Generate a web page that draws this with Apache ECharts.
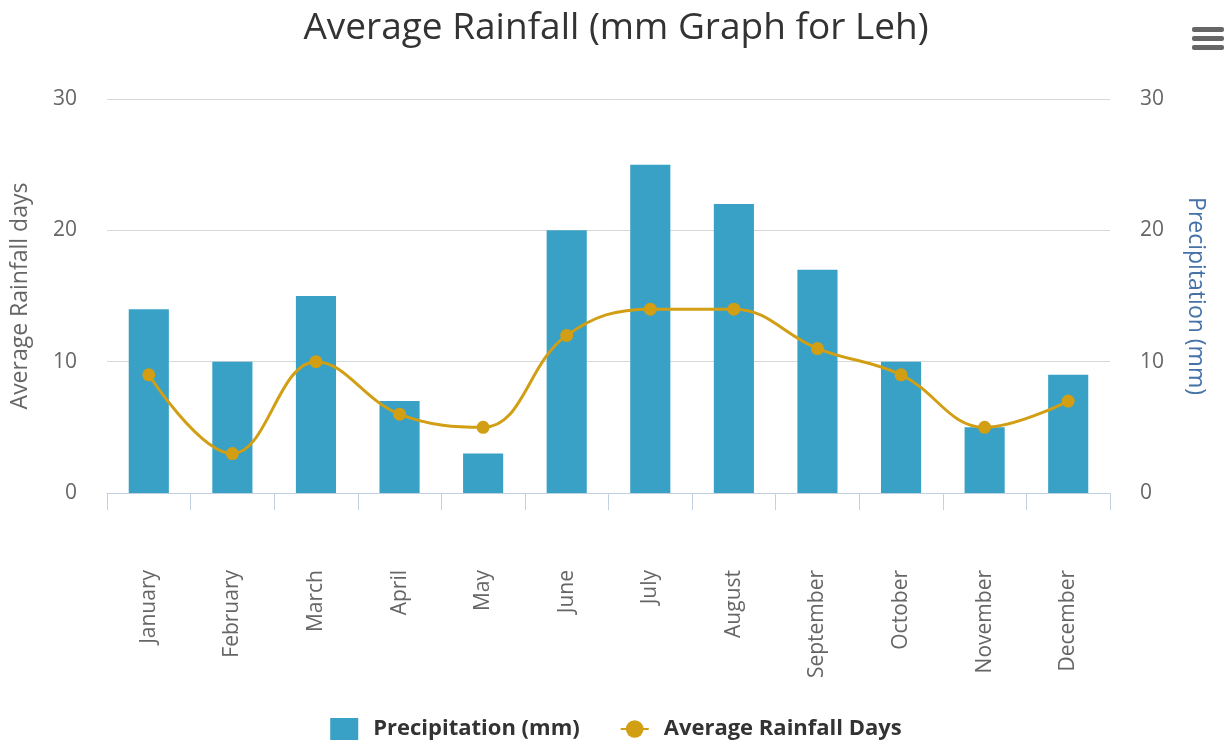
<!DOCTYPE html>
<html><head><meta charset="utf-8">
<script src="https://cdn.jsdelivr.net/npm/echarts@6/dist/echarts.min.js"></script>
<style>html,body{margin:0;padding:0;background:#fff}#c{width:1232px;height:747px}</style>
</head><body><div id="c"></div>
<script>
const months = ["January","February","March","April","May","June","July","August","September","October","November","December"];
const precipitation = [14,10,15,7,3,20,25,22,17,10,5,9];
const rainfallDays = [9,3,10,6,5,12,14,14,11,9,5,7];
const yTicks = [0,10,20,30];

const chart = echarts.init(document.getElementById('c'));
const font = "'Open Sans', 'Noto Sans', sans-serif";
chart.setOption({
  animation:false,
  textStyle:{fontFamily:font},
  title:{text:"Average Rainfall (mm Graph for Leh)",left:'center',top:5,
    textStyle:{fontFamily:font,fontSize:37,fontWeight:'normal',color:'#333'}},
  graphic:[
    {type:'rect',shape:{x:1192,y:27,width:32,height:5,r:2},style:{fill:'#666'}},
    {type:'rect',shape:{x:1192,y:36,width:32,height:5,r:2},style:{fill:'#666'}},
    {type:'rect',shape:{x:1192,y:45,width:32,height:5,r:2},style:{fill:'#666'}}
  ],
  legend:{bottom:2,left:'center',itemGap:40,itemWidth:28,itemHeight:22,
    textStyle:{fontFamily:font,fontSize:22,fontWeight:'bold',color:'#333',padding:[0,0,0,10]},
    data:[{name:'Precipitation (mm)',icon:'rect'},{name:'Average Rainfall Days'}]},
  grid:{left:107,right:122,top:99,bottom:254},
  xAxis:{type:'category',data:months,
    axisLine:{lineStyle:{color:'#c0d0e0'}},
    axisTick:{show:true,length:17,lineStyle:{color:'#c0d0e0'}},
    axisLabel:{rotate:90,margin:77,fontSize:21,color:'#666',fontFamily:font}},
  yAxis:[
    {type:'value',min:0,max:30,interval:10,position:'left',
     name:'Average Rainfall days',nameLocation:'middle',nameGap:75,
     nameTextStyle:{fontSize:23,color:'#666',fontFamily:font},
     axisLabel:{fontSize:21,color:'#666',margin:30,fontFamily:font,
       formatter:v=>yTicks.includes(v)?String(v):''},
     splitLine:{lineStyle:{color:'#d8d8d8'}},axisLine:{show:false},axisTick:{show:false}},
    {type:'value',min:0,max:30,interval:10,position:'right',
     name:'Precipitation (mm)',nameLocation:'middle',nameGap:74,nameRotate:-90,
     nameTextStyle:{fontSize:23,color:'#4572a7',fontFamily:font},
     axisLabel:{fontSize:21,color:'#666',margin:30,fontFamily:font},
     splitLine:{show:false},axisLine:{show:false},axisTick:{show:false}}
  ],
  series:[
    {name:'Precipitation (mm)',type:'bar',yAxisIndex:1,data:precipitation,
     barWidth:'48%',itemStyle:{color:'#38a1c5'}},
    {name:'Average Rainfall Days',type:'line',yAxisIndex:0,data:rainfallDays,
     smooth:0.4,symbol:'circle',symbolSize:13,
     lineStyle:{color:'#d19e14',width:3},itemStyle:{color:'#d19e14'}}
  ]
});
</script></body></html>
